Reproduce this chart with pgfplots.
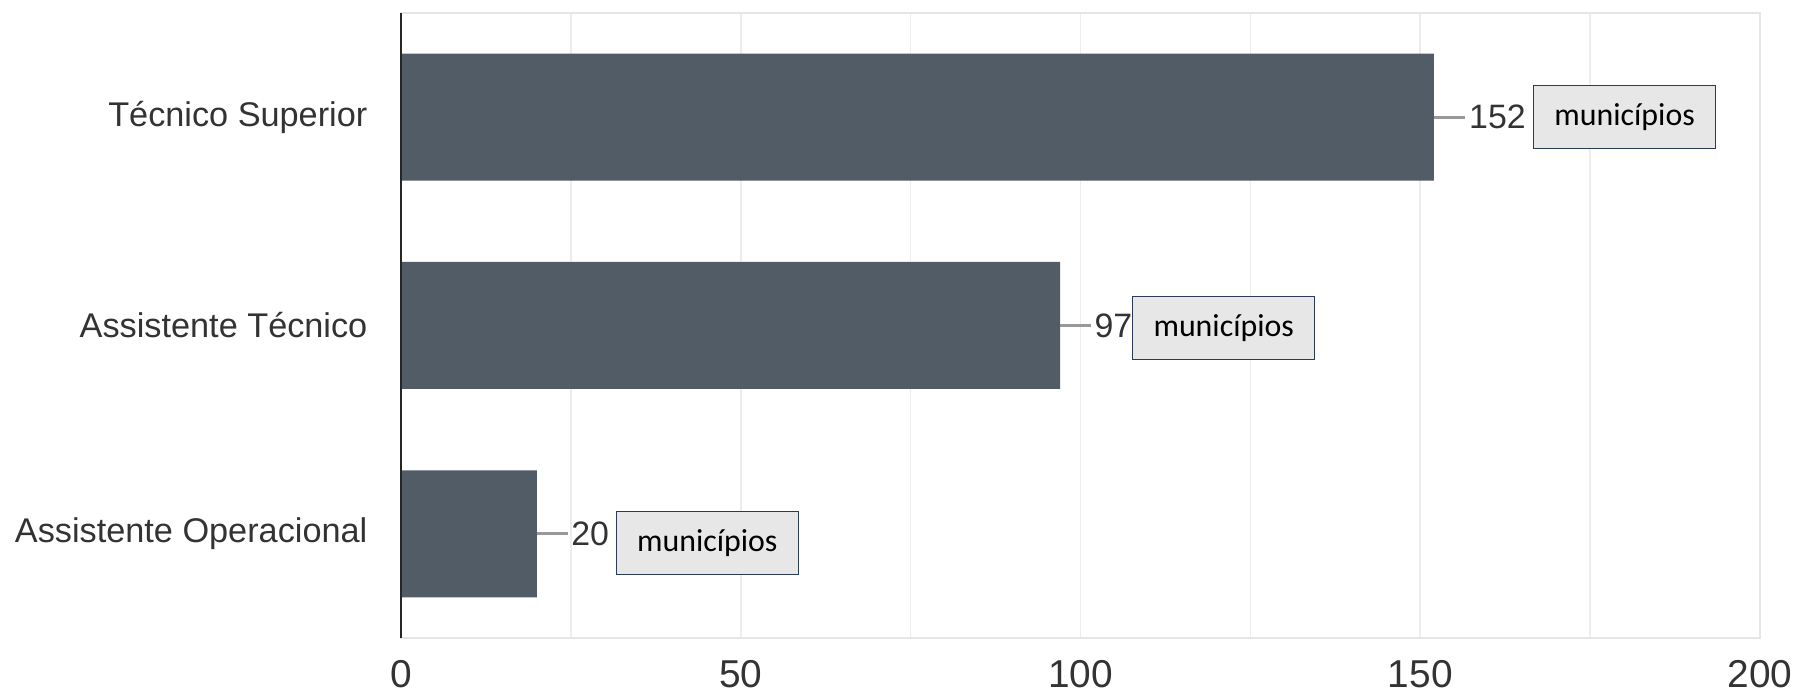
\documentclass[border=0pt]{standalone}
\usepackage{fontspec}
\setmainfont{Liberation Sans}
\newfontfamily\calibri{Carlito}
\usepackage{pgfplots}
\pgfplotsset{compat=1.18}
\definecolor{barc}{HTML}{525C66}
\definecolor{gridc}{HTML}{EDEDED}
\definecolor{framec}{HTML}{E6E6E6}
\definecolor{labc}{HTML}{333333}
\definecolor{connc}{HTML}{999999}
\definecolor{boxf}{HTML}{E7E7E7}
\definecolor{boxb}{HTML}{2B3A55}
\begin{document}
\begin{tikzpicture}
\useasboundingbox (-200.5bp,-28.5bp) rectangle (696bp,319bp);
\begin{axis}[
  at={(0,0)}, anchor=south west, scale only axis,
  width=679.5bp, height=312.5bp,
  xbar, bar width=63.5bp,
  xmin=0, xmax=200, ymin=-0.5, ymax=2.5,
  xtick={0,50,100,150,200}, minor xtick={25,75,125,175},
  ytick={0,1,2},
  yticklabels={Assistente Operacional, Assistente Técnico, Técnico Superior},
  xmajorgrids, xminorgrids,
  major grid style={draw=gridc, line width=0.8bp},
  minor grid style={draw=gridc, line width=0.8bp},
  major tick length=0pt, minor tick length=0pt,
  axis line style={draw=framec, line width=0.8bp},
  tick label style={text=labc},
  /pgf/number format/assume math mode=true,
  xticklabel style={font=\fontsize{19.5}{23}\selectfont, yshift=-7.5bp},
  yticklabel style={font=\fontsize{17.2}{20}\selectfont, xshift=-13.3bp},
  clip=false,
]
\addplot[fill=barc, draw=none] coordinates {(20,0) (97,1) (152,2)};
\draw[connc, line width=1.4bp] (axis cs:152,2) -- ([xshift=15.5bp]axis cs:152,2);
\draw[connc, line width=1.4bp] (axis cs:97,1) -- ([xshift=15.5bp]axis cs:97,1);
\draw[connc, line width=1.4bp] (axis cs:20,0) -- ([xshift=15.5bp]axis cs:20,0);
\node[anchor=west, inner sep=0pt, font=\fontsize{17}{20}\selectfont, text=labc] at ([xshift=17.5bp]axis cs:152,2) {152};
\node[anchor=west, inner sep=0pt, font=\fontsize{17}{20}\selectfont, text=labc] at ([xshift=17bp]axis cs:97,1) {97};
\node[anchor=west, inner sep=0pt, font=\fontsize{17}{20}\selectfont, text=labc] at ([xshift=17bp]axis cs:20,0) {20};
\tikzset{mbox/.style={draw=boxb, fill=boxf, line width=0.6bp, minimum width=91bp, minimum height=31.5bp, inner sep=0pt, anchor=west, font=\calibri\fontsize{16}{19}\selectfont, text=black}}
\node[mbox] at (axis cs:166.6,2.001) {municípios};
\node[mbox] at (axis cs:107.6,0.988) {municípios};
\node[mbox] at (axis cs:31.6,-0.044) {municípios};
\draw[black!85, line width=1bp] (rel axis cs:0,0) -- (rel axis cs:0,1);
\end{axis}
\end{tikzpicture}
\end{document}
